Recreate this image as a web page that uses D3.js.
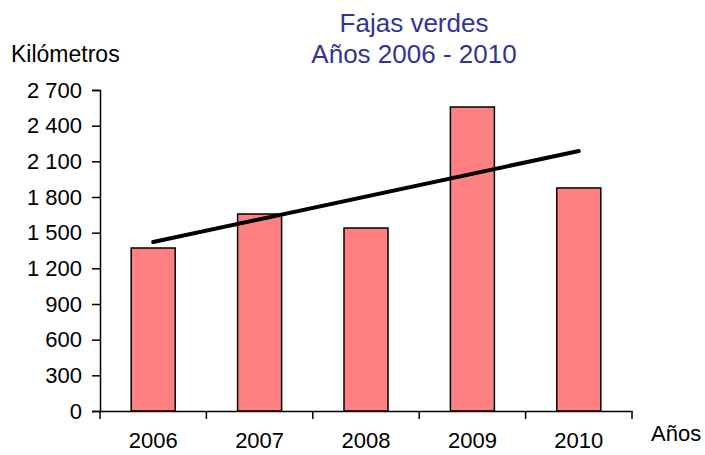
<!DOCTYPE html>
<html><head><meta charset="utf-8">
<script src="https://cdn.jsdelivr.net/npm/d3@7"></script>
<style>body{margin:0;background:#fff}svg{display:block}text{font-family:"Liberation Sans",Arial,sans-serif}</style>
</head><body>
<svg id="c" width="705" height="455"></svg>
<script>
const years = ["2006","2007","2008","2009","2010"];
const km = [1371, 1657, 1539, 2557, 1876];
const trendEnds = [1421, 2187];
const yTicks = [0,300,600,900,1200,1500,1800,2100,2400,2700];
const titleLines = ["Fajas verdes","Años 2006 - 2010"];

const svg = d3.select("#c");
const x0 = 100, x1 = 632, yTop = 90, yBot = 411;
const x = d3.scaleBand().domain(years).range([x0, x1]).paddingInner(0).paddingOuter(0);
const y = d3.scaleLinear().domain([0, 2700]).range([yBot, yTop]);
const fmt = v => d3.format(",")(v).replace(/,/g, " ");
const FF = "Liberation Sans, Arial, sans-serif";

// bars
const bw = 44;
svg.selectAll("rect.bar").data(years).join("rect")
  .attr("x", d => x(d) + x.bandwidth()/2 - bw/2)
  .attr("y", (d,i) => y(km[i]))
  .attr("width", bw)
  .attr("height", (d,i) => yBot - y(km[i]))
  .attr("fill", "#FF8080").attr("stroke", "#000").attr("stroke-width", 1.5);

// y axis
const ya = svg.append("g").attr("transform", `translate(${x0},0)`)
  .call(d3.axisLeft(y).tickValues(yTicks).tickFormat(fmt).tickSize(8).tickPadding(10));
ya.select(".domain").attr("stroke-width", 1.5);
ya.selectAll("line").attr("stroke-width", 1.5);
ya.selectAll("text").attr("font-size", 22).attr("fill", "#000").attr("font-family", FF);

// x axis
const xa = svg.append("g").attr("transform", `translate(0,${yBot})`)
  .call(d3.axisBottom(x).tickSize(0).tickPadding(0));
xa.select(".domain").attr("stroke-width", 1.5);
xa.selectAll("text").attr("font-size", 22).attr("fill", "#000").attr("font-family", FF)
  .attr("dy", null).attr("y", 37);
// boundary ticks
const bounds = years.map(d => x(d)).concat([x1]);
xa.selectAll("line.b").data(bounds).join("line").attr("class","b")
  .attr("x1", d => d).attr("x2", d => d).attr("y1", 0).attr("y2", 8)
  .attr("stroke", "#000").attr("stroke-width", 1.5);

// trend line
const cx = d => x(d) + x.bandwidth()/2;
svg.append("line")
  .attr("x1", cx(years[0])).attr("y1", y(trendEnds[0]))
  .attr("x2", cx(years[years.length-1])).attr("y2", y(trendEnds[1]))
  .attr("stroke", "#000").attr("stroke-width", 4).attr("stroke-linecap", "round");

// titles
svg.selectAll("text.t").data(titleLines).join("text").attr("class","t")
  .attr("x", 414).attr("y", (d,i) => 32 + i*31)
  .attr("text-anchor", "middle").attr("font-size", 26).attr("fill", "#333399").text(d => d);
svg.append("text").attr("x", 11).attr("y", 62).attr("font-size", 23).text("Kilómetros");
svg.append("text").attr("x", 651).attr("y", 441).attr("font-size", 22).text("Años");
</script>
</body></html>
